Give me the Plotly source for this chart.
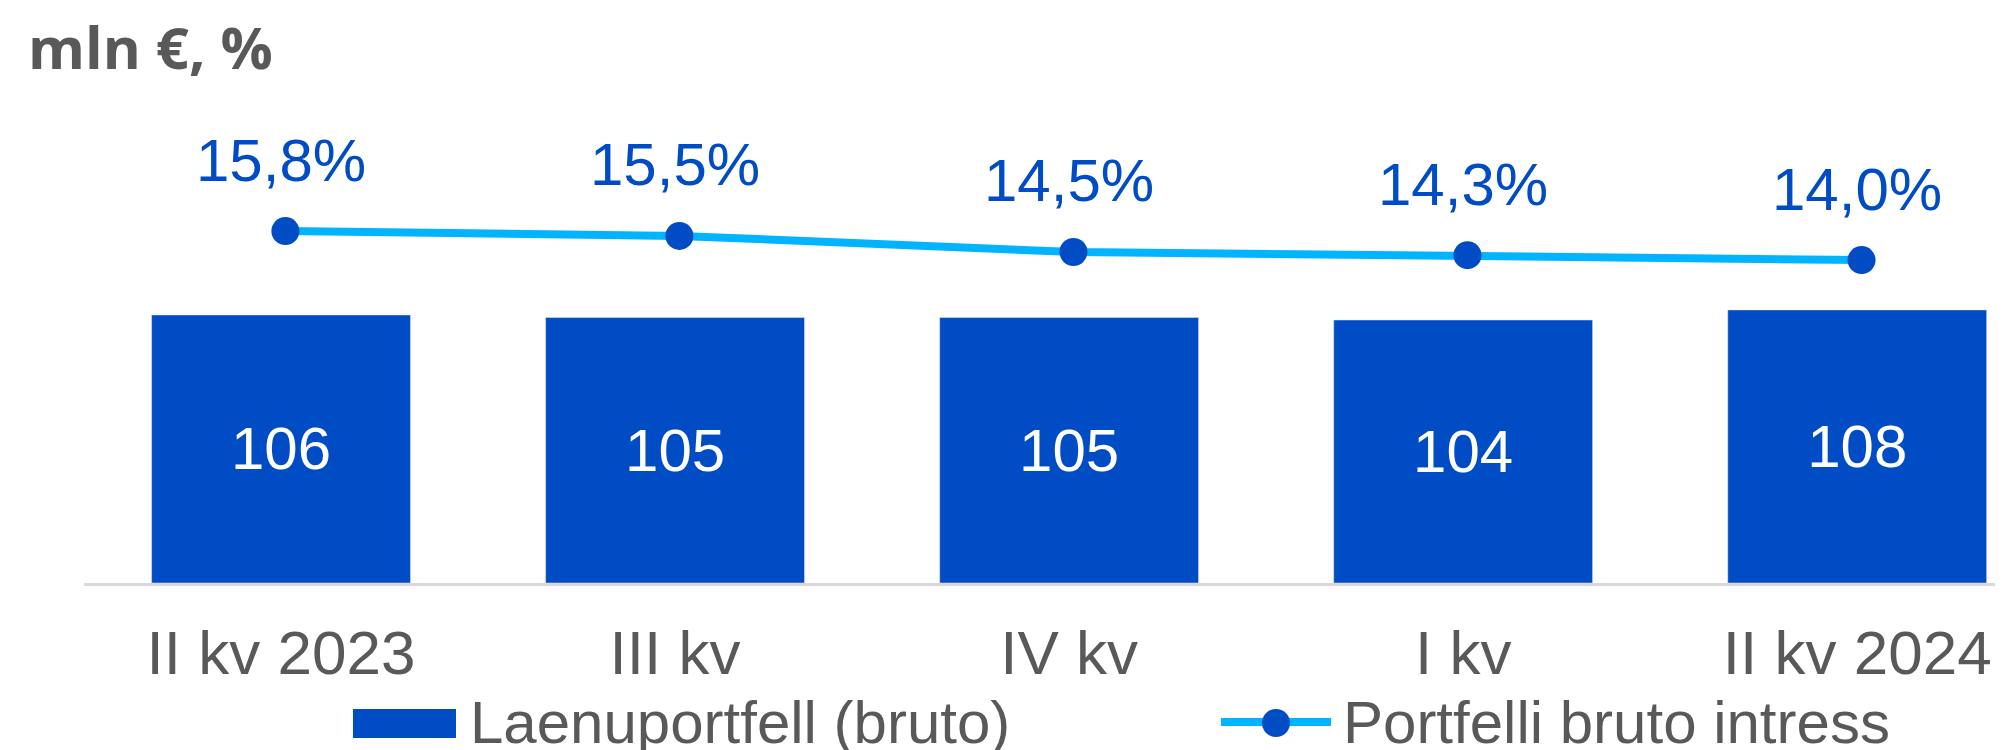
import plotly.graph_objects as go

# data
quarters = ["II kv 2023", "III kv", "IV kv", "I kv", "II kv 2024"]
portfolio = [106, 105, 105, 104, 108]          # mln EUR
interest = [15.8, 15.5, 14.5, 14.3, 14.0]      # %
interest_labels = ["15,8%", "15,5%", "14,5%", "14,3%", "14,0%"]

BLUE = "#004CC4"
LIGHTBLUE = "#00B4FF"
GREY = "#595959"
FONT = "Liberation Sans, Arial, sans-serif"

# the page body adds an 8px margin, so everything is laid out 8px up/left
OFF = 8
W, H = 2003, 750
L, T = 84 - OFF, 100 - OFF
R, B = OFF, H - (583 - OFF)
pw, ph = W - L - R, H - T - B
XR = [-0.5, 4.37]
LINE_SHIFT = 0.011   # line points sit a hair right of the bar centres

def px(x):
    return (x - OFF - L) / pw

def py(y):
    return (H - B - (y - OFF)) / ph

fig = go.Figure()
fig.add_trace(go.Bar(x=quarters, y=portfolio, marker_color=BLUE, width=0.657,
                     text=[str(v) for v in portfolio], textposition="inside",
                     insidetextanchor="middle",
                     textfont=dict(color="white", size=60, family=FONT),
                     name="Laenuportfell (bruto)", showlegend=False))
fig.add_trace(go.Scatter(x=quarters, y=interest, xaxis="x2", yaxis="y2", mode="lines+markers",
                         line=dict(color=LIGHTBLUE, width=8),
                         marker=dict(color=BLUE, size=28),
                         name="Portfelli bruto intress", showlegend=False))

# percentage labels above the line points
for q, v, t in zip(quarters, interest, interest_labels):
    fig.add_annotation(x=q, y=v, yref="y2", text=t, showarrow=False, yshift=71,
                       font=dict(size=60, color=BLUE, family=FONT))

# unit title
fig.add_annotation(xref="paper", yref="paper", x=px(26), y=py(5), xanchor="left", yanchor="top",
                   text="<b>mln €, %</b>", showarrow=False,
                   font=dict(size=58, color=GREY, family="Open Sans, Noto Sans, sans-serif"))

# legend (drawn by hand to get the large swatches)
fig.add_shape(type="rect", xref="paper", yref="paper", x0=px(353), x1=px(456), y0=py(738), y1=py(709),
              fillcolor=BLUE, line_width=0)
fig.add_annotation(xref="paper", yref="paper", x=px(468), y=py(722), xanchor="left", yanchor="middle",
                   text="Laenuportfell (bruto)", showarrow=False,
                   font=dict(size=60, color=GREY, family=FONT))
fig.add_shape(type="line", xref="paper", yref="paper", x0=px(1221), x1=px(1331), y0=py(722), y1=py(722),
              line=dict(color=LIGHTBLUE, width=8))
fig.add_shape(type="circle", xref="paper", yref="paper", x0=px(1262), x1=px(1290), y0=py(737), y1=py(709),
              fillcolor=BLUE, line_width=0)
fig.add_annotation(xref="paper", yref="paper", x=px(1341), y=py(722), xanchor="left", yanchor="middle",
                   text="Portfelli bruto intress", showarrow=False,
                   font=dict(size=60, color=GREY, family=FONT))

fig.update_layout(
    width=W, height=H, margin=dict(l=L, r=R, t=T, b=B),
    plot_bgcolor="white", paper_bgcolor="white",
    showlegend=False, bargap=0.343,
    xaxis=dict(range=XR, showgrid=False, showline=True, linecolor="#D9D9D9", linewidth=3,
               ticks="", tickfont=dict(size=62, color=GREY, family=FONT), ticklabelstandoff=14),
    xaxis2=dict(range=[XR[0] - LINE_SHIFT, XR[1] - LINE_SHIFT], overlaying="x", visible=False,
                categoryorder="array", categoryarray=quarters),
    yaxis=dict(range=[0, 191], visible=False, showgrid=False),
    yaxis2=dict(range=[-6.06, 23.94], overlaying="y", visible=False, showgrid=False),
)

fig.write_html("out.html")
